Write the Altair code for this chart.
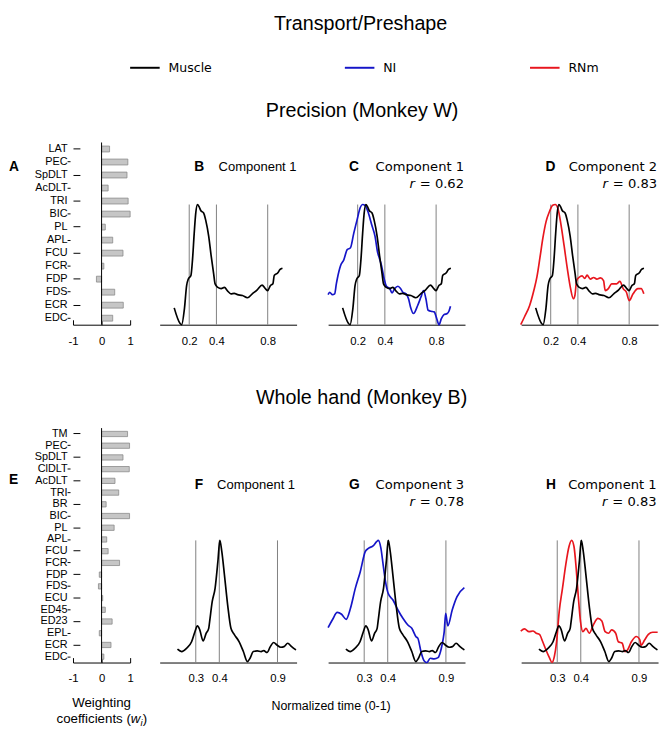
import json
import altair as alt
import pandas as pd

# ---------------- text / categories ----------------
main_title = "Transport/Preshape"
row_titles = ["Precision (Monkey W)", "Whole hand (Monkey B)"]
series_names = ["Muscle", "NI", "RNm"]
series_colors = ["#000000", "#1515c8", "#e8161e"]
panel_letters = ["A", "B", "C", "D", "E", "F", "G", "H"]
components = ["Component 1", "Component 1", "Component 2", "Component 1", "Component 3", "Component 1"]
r_values = ["0.62", "0.83", "0.78", "0.83"]
x_title = "Normalized time (0-1)"
w_title = ["Weighting", "coefficients (", "w", "i", ")"]

# ---------------- bar panels ----------------
muscles_w = ["LAT", "PEC", "SpDLT", "AcDLT", "TRI", "BIC", "PL", "APL", "FCU", "FCR", "FDP", "FDS", "ECR", "EDC"]
weights_w = [0.28, 0.92, 0.89, 0.23, 0.93, 1.0, 0.13, 0.39, 0.75, 0.08, -0.18, 0.46, 0.76, 0.39]
muscles_b = ["TM", "PEC", "SpDLT", "ClDLT", "AcDLT", "TRI", "BR", "BIC", "PL", "APL", "FCU", "FCR",
             "FDP", "FDS", "ECU", "ED45", "ED23", "EPL", "ECR", "EDC"]
weights_b = [0.91, 0.98, 0.75, 0.97, 0.47, 0.60, 0.16, 0.98, 0.44, 0.18, 0.23, 0.63,
             -0.08, -0.11, 0.04, 0.13, 0.37, -0.08, 0.33, 0.08]
bar_ticks = [-1, 0, 1]

# ---------------- event lines / tick labels ----------------
events_w = [0.2, 0.408, 0.8]
event_labels_w = ["0.2", "0.4", "0.8"]
events_b = [0.25, 0.43, 0.875]
event_labels_b = ["0.3", "0.4", "0.9"]

# ---------------- time courses: Precision (Monkey W) ----------------
time_w_muscle = [0.085, 0.13, 0.142, 0.163, 0.18, 0.193, 0.213, 0.225, 0.238, 0.25, 0.263, 0.276, 0.288,
                 0.31, 0.326, 0.349, 0.368, 0.386, 0.398, 0.419, 0.444, 0.469, 0.494, 0.519, 0.544,
                 0.569, 0.607, 0.645, 0.682, 0.72, 0.757, 0.782, 0.80, 0.82, 0.84, 0.85, 0.876, 0.895, 0.913]
val_w_muscle = [0.14, 0.01, 0.0, 0.13, 0.325, 0.38, 0.41, 0.54, 0.76, 0.93, 1.0, 0.98, 0.95,
                0.93, 0.87, 0.735, 0.57, 0.43, 0.34, 0.31, 0.30, 0.31, 0.28, 0.257, 0.26,
                0.25, 0.243, 0.224, 0.257, 0.29, 0.33, 0.30, 0.284, 0.325, 0.34, 0.41, 0.43, 0.46, 0.47]

time_w_ni = [-0.026, -0.014, 0.007, 0.024, 0.037, 0.044, 0.069, 0.094, 0.12, 0.145, 0.17, 0.195, 0.22,
             0.237, 0.258, 0.282, 0.308, 0.333, 0.353, 0.365, 0.383, 0.403, 0.42, 0.446, 0.463, 0.483,
             0.508, 0.529, 0.546, 0.571, 0.589, 0.604, 0.627, 0.659, 0.684, 0.704, 0.722, 0.739, 0.76,
             0.785, 0.805, 0.822, 0.84, 0.86, 0.885, 0.898, 0.91]
val_w_ni = [0.25, 0.27, 0.25, 0.257, 0.34, 0.38, 0.49, 0.54, 0.625, 0.64, 0.76, 0.87, 0.975,
            1.0, 0.99, 0.93, 0.83, 0.735, 0.6, 0.557, 0.49, 0.38, 0.32, 0.30, 0.265, 0.30,
            0.32, 0.30, 0.27, 0.257, 0.216, 0.148, 0.093, 0.16, 0.23, 0.284, 0.216, 0.12, 0.112,
            0.107, 0.05, 0.0, 0.05, 0.084, 0.093, 0.112, 0.153]

time_w_rnm = [-0.029, 0.0, 0.039, 0.07, 0.095, 0.118, 0.14, 0.165, 0.19, 0.215, 0.235, 0.255, 0.277,
              0.303, 0.328, 0.352, 0.373, 0.385, 0.398, 0.416, 0.44, 0.46, 0.478, 0.503, 0.528, 0.553,
              0.58, 0.604, 0.617, 0.641, 0.666, 0.704, 0.729, 0.754, 0.779, 0.80, 0.83, 0.867, 0.892, 0.912]
val_w_rnm = [0.0, 0.066, 0.16, 0.28, 0.40, 0.56, 0.72, 0.86, 0.94, 0.995, 1.0, 0.967, 0.844,
             0.653, 0.46, 0.30, 0.216, 0.243, 0.366, 0.393, 0.407, 0.385, 0.412, 0.38, 0.393, 0.38,
             0.39, 0.366, 0.284, 0.30, 0.34, 0.34, 0.36, 0.30, 0.27, 0.2, 0.257, 0.30, 0.30, 0.257]

# ---------------- time courses: Whole hand (Monkey B) ----------------
time_b_muscle = [0.11, 0.142, 0.18, 0.218, 0.243, 0.263, 0.28, 0.306, 0.33, 0.349, 0.356, 0.376, 0.398,
                 0.419, 0.434, 0.449, 0.469, 0.494, 0.519, 0.544, 0.582, 0.614, 0.645, 0.665, 0.69,
                 0.72, 0.75, 0.77, 0.795, 0.82, 0.846, 0.87, 0.90, 0.925, 0.953, 0.983, 1.016]
val_b_muscle = [0.109, 0.09, 0.117, 0.17, 0.25, 0.30, 0.27, 0.177, 0.24, 0.28, 0.335, 0.5, 0.61,
                0.826, 1.0, 0.91, 0.72, 0.47, 0.28, 0.23, 0.17, 0.09, 0.008, 0.035, 0.09,
                0.095, 0.09, 0.098, 0.082, 0.13, 0.164, 0.144, 0.125, 0.13, 0.158, 0.13, 0.103]

time_b_ni = [-0.026, 0.007, 0.044, 0.077, 0.112, 0.145, 0.182, 0.22, 0.258, 0.282, 0.32, 0.345, 0.358,
             0.378, 0.395, 0.413, 0.433, 0.47, 0.508, 0.546, 0.584, 0.614, 0.647, 0.66, 0.684, 0.709,
             0.73, 0.755, 0.785, 0.815, 0.84, 0.855, 0.862, 0.873, 0.89, 0.923, 0.96, 1.016]
val_b_ni = [0.286, 0.35, 0.41, 0.395, 0.354, 0.444, 0.607, 0.744, 0.908, 0.935, 0.957, 0.99, 1.0,
            0.935, 0.80, 0.662, 0.567, 0.512, 0.43, 0.362, 0.307, 0.28, 0.21, 0.2, 0.09, 0.013,
            0.0, 0.035, 0.03, 0.04, 0.117, 0.2, 0.253, 0.403, 0.30, 0.43, 0.54, 0.613]

time_b_rnm = [-0.029, 0.0, 0.034, 0.064, 0.089, 0.114, 0.139, 0.164, 0.19, 0.21, 0.228, 0.245, 0.265,
              0.29, 0.315, 0.34, 0.36, 0.378, 0.395, 0.41, 0.428, 0.446, 0.47, 0.495, 0.528, 0.561,
              0.591, 0.616, 0.642, 0.666, 0.697, 0.717, 0.747, 0.767, 0.787, 0.817, 0.855, 0.88,
              0.892, 0.917, 0.947, 0.98, 1.018]
val_b_rnm = [0.258, 0.275, 0.253, 0.258, 0.24, 0.23, 0.17, 0.103, 0.04, 0.0, 0.05, 0.17, 0.417,
             0.607, 0.8, 0.95, 1.0, 0.95, 0.77, 0.553, 0.335, 0.253, 0.28, 0.24, 0.313, 0.362,
             0.34, 0.253, 0.24, 0.267, 0.24, 0.17, 0.158, 0.09, 0.103, 0.17, 0.213, 0.19,
             0.141, 0.182, 0.23, 0.248, 0.248]

# ---------------- styling helpers ----------------
FA = "Liberation Sans"
FV = "DejaVu Sans"
XDOM = [-0.026, 1.021]

cscale = alt.Scale(domain=series_names, range=series_colors)
legend = alt.Legend(orient="none", legendX=57, legendY=-92, direction="horizontal", columns=3,
                    columnPadding=131, symbolType="stroke", symbolSize=900, symbolStrokeWidth=2,
                    labelFont=FV, labelFontSize=12.7, labelOffset=8, labelColor="black",
                    title=None, padding=0)


def txt(s, x, y, size, font=FA, weight="normal", style="normal", align="left", baseline="alphabetic"):
    return alt.Chart(pd.DataFrame({"s": [s]})).mark_text(
        align=align, baseline=baseline, font=font, fontSize=size, fontWeight=weight,
        fontStyle=style, color="black").encode(x=alt.value(x), y=alt.value(y), text="s:N")


def lab_expr(vals, labs):
    s = "''"
    for v, l in reversed(list(zip(vals, labs))):
        s = f"abs(datum.value - {v}) < 0.01 ? '{l}' : ({s})"
    return s


def line_panel(w, x0, h, ytop, events, ev_labels, lpad, series_list, texts):
    xs = alt.Scale(domain=XDOM, range=[x0, w], nice=False, zero=False)
    ys = alt.Scale(domain=[0, 1], range=[h, ytop], nice=False, zero=False)
    xaxis = alt.Axis(values=events, labelExpr=lab_expr(events, ev_labels), ticks=False, grid=False,
                     title=None, domainColor="black", domainWidth=1, labelFont=FA, labelFontSize=11.5,
                     labelColor="black", labelPadding=lpad, labelOverlap=False, labelFlush=False)
    grid = alt.Chart(pd.DataFrame({"t": events})).mark_rule(color="#808080", strokeWidth=1).encode(
        x=alt.X("t:Q", scale=xs, axis=xaxis),
        y=alt.YDatum(0, type="quantitative", scale=ys, axis=None),
        y2=alt.Y2Datum(1))
    layers = [grid]
    for name, t, v in series_list:
        df = pd.DataFrame({"t": t, "v": v, "series": [name] * len(t)})
        layers.append(alt.Chart(df).mark_line(strokeWidth=1.7, interpolate="monotone").encode(
            x=alt.X("t:Q", scale=xs, axis=xaxis),
            y=alt.Y("v:Q", scale=ys, axis=None),
            color=alt.Color("series:N", scale=cscale, legend=legend)))
    layers += texts
    return alt.layer(*layers).properties(width=w, height=h)


def bar_panel(muscles, weights, h, lpad, texts):
    odd = muscles[1::2]
    odd_test = " || ".join("datum.value === %s" % json.dumps(m) for m in odd)
    xs = alt.Scale(domain=[-1, 1], range=[0, 58], nice=False)
    ys = alt.Scale(domain=muscles, paddingInner=0.55, paddingOuter=0.275)
    df = pd.DataFrame({"m": muscles, "w": weights})
    yaxis1 = alt.Axis(orient="left", offset=-7, domain=False, ticks=True, tickSize=7, tickColor="black",
                      tickOpacity={"condition": {"test": odd_test, "value": 0}, "value": 1},
                      labelPadding=6, labelFont=FA, labelFontSize=11, labelColor="black", title=None)
    xaxis1 = alt.Axis(orient="bottom", offset=-5, domain=False, ticks=True, tickSize=5, tickColor="black",
                      values=bar_ticks, labelExpr="'' + datum.value", labelPadding=lpad, labelFont=FA,
                      labelFontSize=11.5, labelColor="black", title=None, grid=False, labelFlush=False)
    bars = alt.Chart(df).mark_bar(fill="#c6c6c6", stroke="#8a8a8a", strokeWidth=0.8).encode(
        x=alt.X("w:Q", scale=xs, axis=xaxis1),
        y=alt.Y("m:N", sort=muscles, scale=ys, axis=yaxis1))
    yaxis2 = alt.Axis(orient="left", offset=3, domain=False, ticks=True, tickSize=3, tickColor="black",
                      tickOpacity={"condition": {"test": odd_test, "value": 1}, "value": 0},
                      labels=False, title=None)
    xaxis2 = alt.Axis(orient="bottom", offset=0, domain=True, domainColor="black", ticks=False,
                      labels=False, title=None, grid=False)
    ghost = alt.Chart(df).mark_bar(opacity=0).encode(
        x=alt.X("w:Q", scale=xs, axis=xaxis2),
        y=alt.Y("m:N", sort=muscles, scale=ys, axis=yaxis2))
    zero = alt.Chart(pd.DataFrame({"z": [0]})).mark_rule(color="black", strokeWidth=1).encode(
        x=alt.X("z:Q", scale=xs, axis=None))
    return (alt.layer(bars, ghost, zero, *texts)
            .resolve_scale(x="independent", y="independent")
            .resolve_axis(x="independent", y="independent")
            .properties(width=56, height=h))


def r_texts(value, right, y):
    return [txt("= " + value, right, y, 13.3, font=FV, align="right"),
            txt("r", right - 50, y, 13.3, font=FV, style="italic", align="right")]


W_muscle = ("Muscle", time_w_muscle, val_w_muscle)
W_ni = ("NI", time_w_ni, val_w_ni)
W_rnm = ("RNm", time_w_rnm, val_w_rnm)
B_muscle = ("Muscle", time_b_muscle, val_b_muscle)
B_ni = ("NI", time_b_ni, val_b_ni)
B_rnm = ("RNm", time_b_rnm, val_b_rnm)

H1, YT1 = 185, 63
H2, YT2 = 238, 114
Y1a, Y1b = 29.3, 46
Y2a, Y2b = 62, 78.7

panel_A = bar_panel(muscles_w, weights_w, H1, 11, [
    txt(panel_letters[0], -65, 29.3, 14, weight="bold"),
    txt(main_title, 292, -130, 20, align="center", baseline="top"),
    txt(row_titles[0], 293.5, -25.5, 20, align="center"),
])
panel_B = line_panel(139, 0, H1, YT1, events_w, event_labels_w, 11, [W_muscle], [
    txt(panel_letters[1], 35, Y1a, 14, weight="bold"),
    txt(components[0], 139, Y1a, 13.2, align="right"),
])
panel_C = line_panel(139, 0, H1, YT1, events_w, event_labels_w, 11, [W_ni, W_muscle], [
    txt(panel_letters[2], 21.3, Y1a, 14, weight="bold"),
    txt(components[1], 138, Y1a, 13.3, font=FV, align="right"),
] + r_texts(r_values[0], 138, Y1b))
panel_D = line_panel(164, 25, H1, YT1, events_w, event_labels_w, 11, [W_rnm, W_muscle], [
    txt(panel_letters[3], 49.7, Y1a, 14, weight="bold"),
    txt(components[2], 163, Y1a, 13.3, font=FV, align="right"),
] + r_texts(r_values[1], 163, Y1b))

panel_E = bar_panel(muscles_b, weights_b, H2, 10, [
    txt(panel_letters[4], -65, 57, 14, weight="bold"),
    txt(row_titles[1], 293, -24, 20, align="center"),
    txt(w_title[0], 29, 283, 13.5, align="center"),
    txt(w_title[1], 58.7, 299, 13.5, align="right"),
    txt(w_title[2], 58.7, 299, 13.5, style="italic"),
    txt(w_title[3], 68.5, 302, 9.5, style="italic"),
    txt(w_title[4], 70.8, 299, 13.5),
])
panel_F = line_panel(139, 0, H2, YT2, events_b, event_labels_b, 10, [B_muscle], [
    txt(panel_letters[5], 35.7, Y2a, 14, weight="bold"),
    txt(components[3], 137.5, Y2a, 13.2, align="right"),
    txt(x_title, 174, 286, 12.6, align="center"),
])
panel_G = line_panel(139, 0, H2, YT2, events_b, event_labels_b, 10, [B_ni, B_muscle], [
    txt(panel_letters[6], 21.3, Y2a, 14, weight="bold"),
    txt(components[4], 138, Y2a, 13.3, font=FV, align="right"),
] + r_texts(r_values[2], 138, Y2b))
panel_H = line_panel(164, 25, H2, YT2, events_b, event_labels_b, 10, [B_rnm, B_muscle], [
    txt(panel_letters[7], 50.3, Y2a, 14, weight="bold"),
    txt(components[5], 162.5, Y2a, 13.3, font=FV, align="right"),
] + r_texts(r_values[3], 162.5, Y2b))

chart = alt.concat(
    panel_A, panel_B, panel_C, panel_D, panel_E, panel_F, panel_G, panel_H,
    columns=4, bounds="flush", align="each", spacing={"row": 105, "column": 32}, padding=0,
).configure(font=FA).configure_view(stroke="transparent")

chart.save("out.html", embed_options={"renderer": "svg", "actions": False})
